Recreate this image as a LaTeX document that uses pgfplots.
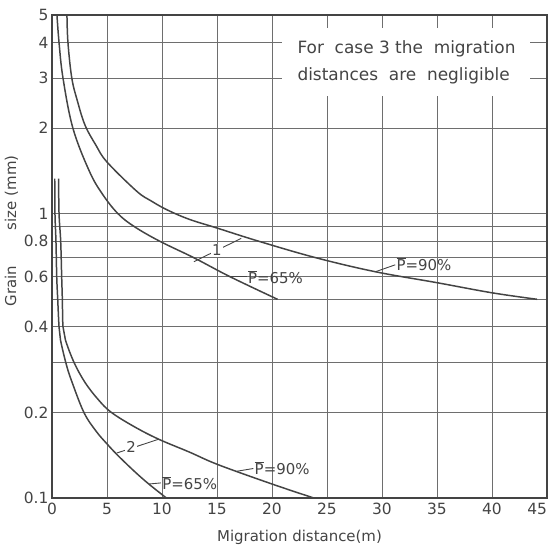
\documentclass[border=0pt]{standalone}
\usepackage{fontspec}
\setmainfont{DejaVu Sans}
\usepackage{pgfplots}
\pgfplotsset{compat=1.18}
\definecolor{ink}{HTML}{444444}
\definecolor{gridc}{HTML}{6E6E6E}
\newcommand{\Pbar}{$\overline{\mbox{P}}$}

\begin{document}
\begin{tikzpicture}
\useasboundingbox (-52bp,-50bp) rectangle (498bp,498bp);
\begin{axis}[
  at={(0,0)}, anchor=south west,
  scale only axis, width=495bp, height=483bp,
  ymode=log,
  xmin=0, xmax=45, ymin=0.1, ymax=5,
  xtick={0,5,...,45},
  xticklabels={0,5,10,15,20,25,30,35,40,\llap{45}},
  ytick={0.1,0.2,0.4,0.6,0.8,1,2,3,4,5},
  yticklabels={0.1,0.2,0.4,0.6,0.8,1,2,3,4,5},
  minor ytick={0.3,0.5,0.7,0.9},
  grid=both,
  major grid style={draw=gridc, line width=0.9pt},
  minor grid style={draw=gridc, line width=0.9pt},
  major tick length=0pt, minor tick length=0pt,
  axis line style={draw=ink, line width=1.6pt},
  tick label style={font=\fontsize{15.5}{18}\selectfont, text=ink},
  xticklabel style={yshift=-2bp},
  label style={font=\fontsize{15}{18}\selectfont, text=ink},
  xlabel={Migration distance(m)},
  ylabel={Grain\hspace{36bp}size\hspace{5bp}(mm)},
  xlabel style={yshift=-8bp},
  ylabel style={at={(axis description cs:-0.082,0.553)}, anchor=center, rotate=0},
]
% group 1, P = 65 %
\addplot[ink, line width=1.5pt, smooth, tension=0.6] coordinates {
  (0.45,5) (0.64,4) (1.0,3) (1.9,2) (3.4,1.41) (4.6,1.17) (6.0,1.0)
  (7.5,0.9) (9.8,0.8) (12.9,0.7) (16.2,0.6) (20.5,0.5)};
% group 1, P = 90 %
\addplot[ink, line width=1.5pt, smooth, tension=0.6] coordinates {
  (1.36,5) (1.45,4) (1.8,3) (2.3,2.5) (3.0,2.05) (4.0,1.74) (5.0,1.52) (7.7,1.2)
  (9.0,1.11) (10.5,1.03) (12.5,0.955) (14.9,0.893) (18.8,0.8) (24.0,0.7)
  (29.4,0.625) (35.0,0.572) (40.0,0.527) (44.1,0.5)};
% group 2, P = 65 %
\addplot[ink, line width=1.5pt, smooth, tension=0.6] coordinates {
  (0.25,1.33) (0.27,1.0) (0.36,0.8) (0.43,0.6) (0.52,0.5) (0.64,0.4)
  (0.77,0.36) (1.3,0.295) (1.8,0.257) (2.9,0.2) (4.0,0.172) (5.0,0.155)
  (6.0,0.141) (7.5,0.124) (8.8,0.112) (10.4,0.1)};
% group 2, P = 90 %
\addplot[ink, line width=1.5pt, smooth, tension=0.6] coordinates {
  (0.6,1.33) (0.64,1.0) (0.79,0.8) (0.88,0.6) (0.94,0.5) (1.0,0.4)
  (1.22,0.36) (2.0,0.3) (3.0,0.255) (4.2,0.222) (5.4,0.2) (7.5,0.178)
  (9.7,0.161) (12.5,0.145) (15.1,0.131) (20.0,0.112) (23.8,0.1)};

% note box
\fill[white] (axis cs:20.9,2.6) rectangle (axis cs:43.5,4.5);
\node[anchor=west, align=left, text=ink, font=\fontsize{17}{27}\selectfont]
  at (axis cs:22.0,3.4) {For\ \ case 3 the\ \ migration\\distances\ \ are\ \ negligible};

% curve labels
\begin{scope}[ink, line width=0.9pt, every node/.style={inner sep=1pt, text=ink, font=\fontsize{15}{17}\selectfont}]
\draw (axis cs:12.9,0.678) -- (axis cs:17.2,0.819);
\node[fill=white] at (axis cs:15.0,0.745) {1};
\draw (axis cs:5.9,0.144) -- (axis cs:9.7,0.161);
\node[fill=white] at (axis cs:7.2,0.151) {2};
\draw (axis cs:16.2,0.6) -- (axis cs:17.7,0.6);
\node[anchor=west] at (axis cs:17.7,0.6) {\Pbar=65\%};
\draw (axis cs:29.4,0.625) -- (axis cs:31.2,0.661);
\node[anchor=west] at (axis cs:31.2,0.665) {\Pbar=90\%};
\draw (axis cs:16.7,0.124) -- (axis cs:18.3,0.127);
\node[anchor=west] at (axis cs:18.3,0.127) {\Pbar=90\%};
\draw (axis cs:8.8,0.112) -- (axis cs:9.9,0.113);
\node[anchor=west] at (axis cs:9.9,0.113) {\Pbar=65\%};
\end{scope}
\end{axis}
\end{tikzpicture}
\end{document}
